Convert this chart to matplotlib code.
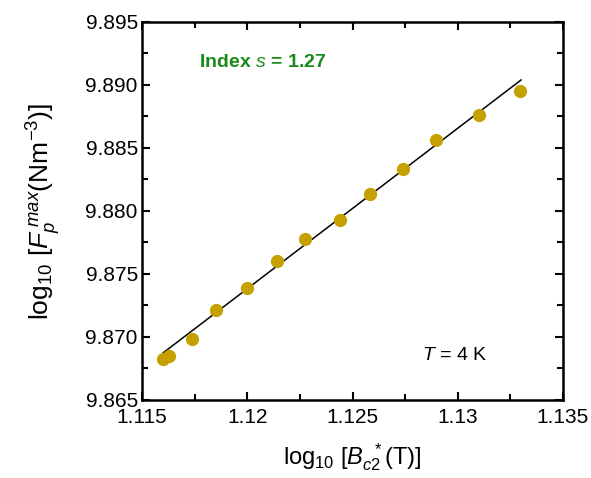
import numpy as np
import matplotlib.pyplot as plt
from matplotlib.ticker import MultipleLocator, FormatStrFormatter, FuncFormatter

# data
log_bc2 = [1.11601, 1.11629, 1.11736, 1.11853, 1.11997, 1.12140, 1.12274,
           1.12441, 1.12583, 1.12738, 1.12899, 1.13101, 1.13297]
log_fp = [9.86823, 9.86849, 9.86987, 9.87214, 9.87391, 9.87606, 9.87775,
          9.87931, 9.88135, 9.88333, 9.88563, 9.88762, 9.88955]

# fitted straight line (index s = 1.27)
fit_x = [1.11601, 1.13301]
fit_y = [9.86875, 9.89040]

plt.rcParams['font.family'] = ['Liberation Sans', 'DejaVu Sans']
plt.rcParams['mathtext.fontset'] = 'custom'
plt.rcParams['mathtext.rm'] = 'Liberation Sans'
plt.rcParams['mathtext.it'] = 'Liberation Sans:italic'

fig = plt.figure(figsize=(5.91, 4.78), dpi=100)
ax = fig.add_axes([0.2403, 0.1632, 0.7123, 0.7908])

ax.plot(fit_x, fit_y, color='black', lw=1.1, zorder=2)
ax.plot(log_bc2, log_fp, 'o', color='#c4a000', ms=8.5, mec='#c4a000', zorder=3)

ax.set_xlim(1.115, 1.135)
ax.set_ylim(9.865, 9.895)
ax.xaxis.set_major_locator(MultipleLocator(0.005))
ax.xaxis.set_minor_locator(MultipleLocator(0.0025))
ax.yaxis.set_major_locator(MultipleLocator(0.005))
ax.yaxis.set_minor_locator(MultipleLocator(0.0025))
ax.yaxis.set_major_formatter(FormatStrFormatter('%.3f'))
ax.xaxis.set_major_formatter(FuncFormatter(lambda v, p: ('%.3f' % v).rstrip('0')))

ax.tick_params(which='both', direction='in', top=True, right=True, width=1.5)
ax.tick_params(which='major', length=6, labelsize=15, pad=3)
ax.tick_params(axis='x', which='major', pad=6)
ax.tick_params(which='minor', length=4)
for s in ax.spines.values():
    s.set_linewidth(1.8)

ax.set_xlabel(r'log$_{10}$ [$B_{c2}^{\;\;*}$(T)]', fontsize=17, labelpad=10)
ax.set_ylabel(r'log$_{10}$ [$F_{p}^{\;max}$(Nm$^{-3}$)]', fontsize=19, labelpad=16)

ax.text(0.135, 0.88, r'Index $\mathit{s}$ = 1.27', transform=ax.transAxes,
        color='#1a8a1a', fontsize=14, fontweight='bold')
ax.text(0.665, 0.105, r'$\mathit{T}$ = 4 K', transform=ax.transAxes,
        color='black', fontsize=14)

fig.savefig('out.png', dpi=100)
